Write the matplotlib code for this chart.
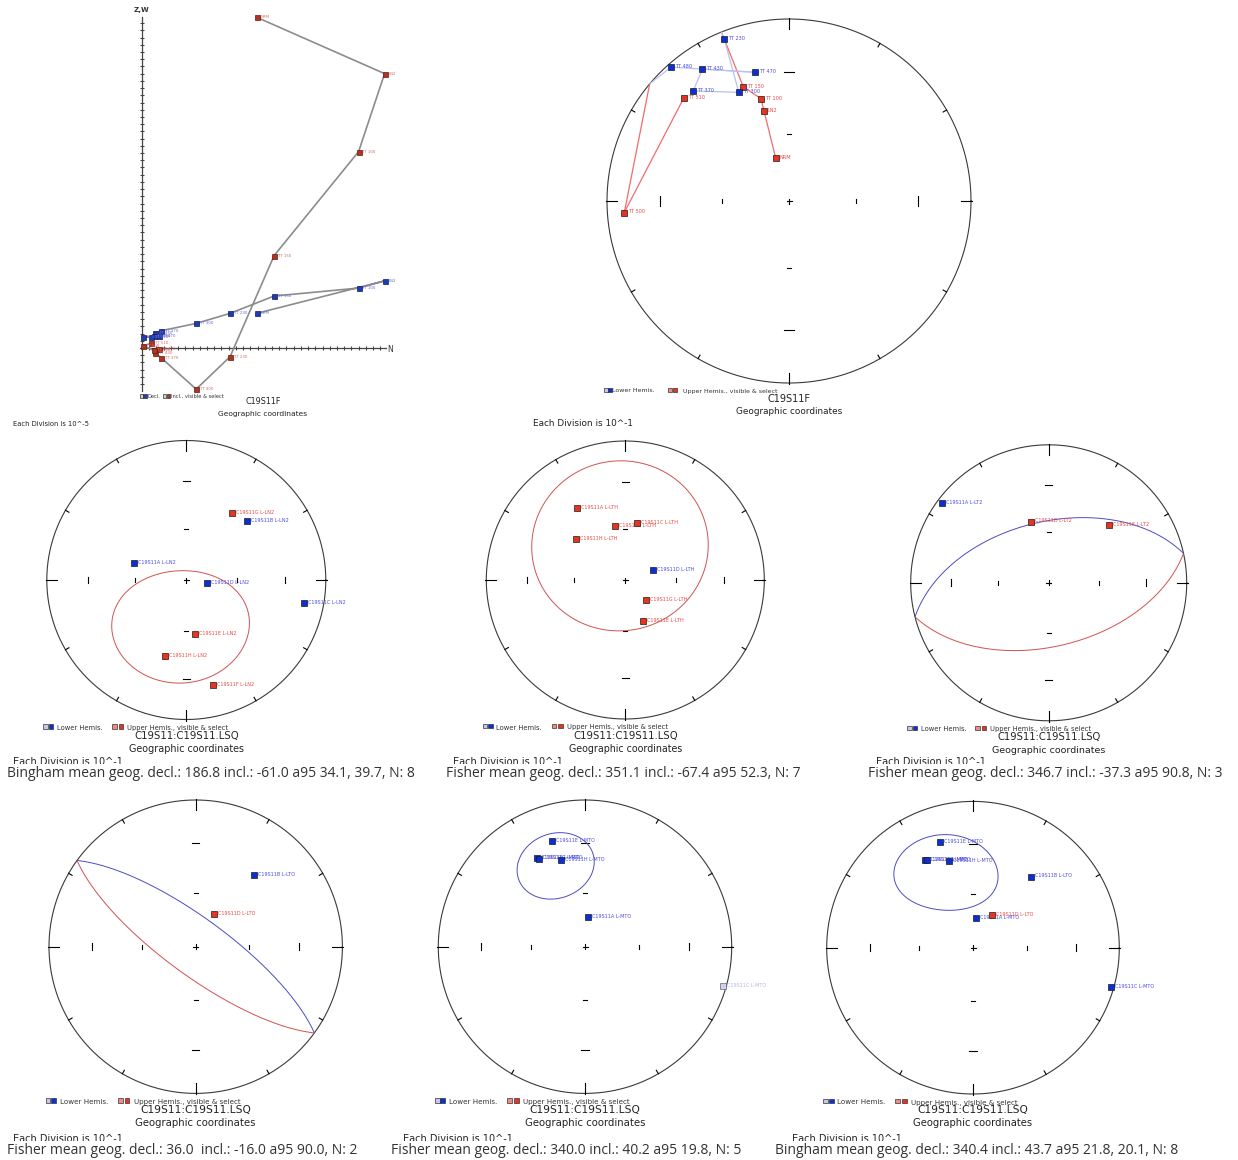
import numpy as np
import matplotlib
matplotlib.use("Agg")
import matplotlib.pyplot as plt
from matplotlib.patches import Rectangle

W, H, DPI = 1238, 1160, 100

# ---------------- data ----------------
# Zijderveld diagram, sample C19S11F (units: divisions of 10^-5)
zij_steps = ["NRM", "LN2", "TT 100", "TT 150", "TT 230", "TT 300",
             "TT 370", "TT 430", "TT 470", "TT 480", "TT 500", "TT 510"]
zij_north = [15.9, 33.6, 30.0, 18.3, 12.2, 7.5, 2.7, 1.8, 2.3, 1.6, 0.1, 1.3]
zij_west = [4.8, 9.3, 8.3, 7.2, 4.8, 3.4, 2.4, 2.1, 1.6, 1.6, 1.5, 1.5]
zij_up = [45.8, 38.0, 27.2, 12.8, -1.2, -5.7, -1.4, -0.7, -0.15, -0.3, 0.3, 0.65]

# Equal-area plot of the same demagnetisation steps (decl., incl.)
sf_dec = [342.8, 344.5, 344.7, 338.2, 338.2, 335.2, 319.0, 326.7, 345.2, 318.6, 266.0, 314.4]
sf_inc = [-69.8, -47.3, -41.3, -32.9, 4.8, 34.6, 20.9, 14.4, 27.7, 2.2, -10.2, -20.2]

# Site-level components
ln2_labels = ["C19S11G L-LN2", "C19S11B L-LN2", "C19S11A L-LN2", "C19S11D L-LN2",
              "C19S11C L-LN2", "C19S11E L-LN2", "C19S11H L-LN2", "C19S11F L-LN2"]
ln2_dec = [34.5, 45.8, 288.0, 99.3, 101.2, 171.0, 195.7, 165.9]
ln2_inc = [-41.6, 39.2, 57.6, 78.0, 15.3, -57.6, -42.8, -23.4]

lth_labels = ["C19S11A L-LTH", "C19S11B L-LTH", "C19S11C L-LTH", "C19S11H L-LTH",
              "C19S11D L-LTH", "C19S11G L-LTH", "C19S11E L-LTH"]
lth_dec = [325.9, 349.5, 11.9, 309.9, 70.1, 134.8, 156.8]
lth_inc = [-37.7, -57.6, -55.7, -51.8, 72.7, -73.1, -63.6]

lt2_labels = ["C19S11A L-LT2", "C19S11D L-LT2", "C19S11E L-LT2"]
lt2_dec = [306.8, 343.9, 46.3]
lt2_inc = [4.3, -51.9, -39.2]

lto_labels = ["C19S11B L-LTO", "C19S11D L-LTO"]
lto_dec = [39.2, 29.9]
lto_inc = [37.3, -69.2]

mto_labels = ["C19S11E L-MTO", "C19S11F L-MTO", "C19S11G L-MTO", "C19S11H L-MTO",
              "C19S11A L-MTO", "C19S11C L-MTO"]
mto_dec = [342.6, 331.4, 332.6, 344.6, 5.0, 105.8]
mto_inc = [25.2, 32.0, 32.8, 38.4, 73.3, 2.3]

# Means (kind, decl, incl, a95 semi-angles, N)
mean_kind = ["Bingham", "Fisher", "Fisher", "Fisher", "Fisher", "Bingham"]
mean_dec = [186.8, 351.1, 346.7, 36.0, 340.0, 340.4]
mean_inc = [-61.0, -67.4, -37.3, -16.0, 40.2, 43.7]
mean_a95 = [(34.1, 39.7), (52.3,), (90.8,), (90.0,), (19.8,), (21.8, 20.1)]
mean_n = [8, 7, 3, 2, 5, 8]
# confidence regions as drawn (semi-angles along declination / inclination, tilt)
ell_e1 = [39.7, 52.3, 90.8, 90.0, 19.8, 28.0]
ell_e2 = [34.1, 52.3, 90.8, 90.0, 19.8, 22.0]
ell_phi = [15.0, 0.0, 0.0, 0.0, 0.0, 38.0]

# ---------------- helpers ----------------
BLUE, RED = "#0b2fd6", "#e6341e"
BLUE_T, RED_T = "#4b4be0", "#e84a44"
LBLUE, LRED = "#c4c8f0", "#f28a86"


def ea(dec, inc):
    d = np.radians(np.asarray(dec, float))
    i = np.radians(np.abs(np.asarray(inc, float)))
    r = np.sqrt(2) * np.sin((np.pi / 2 - i) / 2)
    return r * np.sin(d), r * np.cos(d)


def dir2vec(dec, inc):
    d, i = np.radians(dec), np.radians(inc)
    return np.array([np.cos(i) * np.cos(d), np.cos(i) * np.sin(d), np.sin(i)])


def vec2dir(v):
    x, y, z = v
    n = np.sqrt(x * x + y * y + z * z)
    return np.degrees(np.arctan2(y, x)) % 360, np.degrees(np.arcsin(np.clip(z / n, -1, 1)))


def cone(dec, inc, a_e1, a_e2, phi=0.0, n=1441):
    m = dir2vec(dec, inc)
    d, i = np.radians(dec), np.radians(inc)
    e1 = np.array([-np.sin(d), np.cos(d), 0.0])
    e2 = np.array([-np.sin(i) * np.cos(d), -np.sin(i) * np.sin(d), np.cos(i)])
    t = np.linspace(0, 2 * np.pi, n)
    A, B = np.radians(a_e1), np.radians(a_e2)
    tt = t - np.radians(phi)
    th = A * B / np.sqrt((B * np.cos(tt)) ** 2 + (A * np.sin(tt)) ** 2)
    return (np.cos(th) * m[:, None]
            + np.sin(th) * (np.cos(t) * e1[:, None] + np.sin(t) * e2[:, None]))


def draw_split(ax, v, c_low, c_up, lw):
    dec, inc = vec2dir(v)
    x, y = ea(dec, inc)
    low = v[2] >= 0
    idx = np.where(np.diff(low.astype(int)) != 0)[0]
    starts = np.r_[0, idx + 1]
    ends = np.r_[idx + 1, len(low)]
    for s, e in zip(starts, ends):
        e2 = min(e + 1, len(low))
        ax.plot(x[s:e2], y[s:e2], color=c_low if low[s] else c_up, lw=lw,
                solid_capstyle="butt", zorder=3, clip_on=False)


def draw_step_path(ax, decs, incs, c_low, c_up, lw):
    for k in range(len(decs) - 1):
        v1, v2 = dir2vec(decs[k], incs[k]), dir2vec(decs[k + 1], incs[k + 1])
        p1, p2 = ea(decs[k], incs[k]), ea(decs[k + 1], incs[k + 1])
        c1 = c_low if incs[k] >= 0 else c_up
        c2 = c_low if incs[k + 1] >= 0 else c_up
        if c1 == c2:
            ax.plot([p1[0], p2[0]], [p1[1], p2[1]], color=c1, lw=lw, zorder=3, clip_on=False)
        else:
            s = v1[2] / (v1[2] - v2[2])
            pc = ea(*vec2dir((1 - s) * v1 + s * v2))
            ax.plot([p1[0], pc[0]], [p1[1], pc[1]], color=c1, lw=lw, zorder=3, clip_on=False)
            ax.plot([pc[0], p2[0]], [pc[1], p2[1]], color=c2, lw=lw, zorder=3, clip_on=False)


fig = plt.figure(figsize=(W / DPI, H / DPI), dpi=DPI)
fig.patch.set_facecolor("white")

# overlay in pixel coordinates for the annotation texts
ov = fig.add_axes([0, 0, 1, 1])
ov.set_xlim(0, W)
ov.set_ylim(H, 0)
ov.axis("off")


def sq(x, y, size, fc, ec="#333333"):
    ov.add_patch(Rectangle((x, y - size / 2), size, size, facecolor=fc,
                           edgecolor=ec, lw=0.5, zorder=2))


def stereo_axes(cx, cy, R):
    ax = fig.add_axes([(cx - R) / W, (H - cy - R) / H, 2 * R / W, 2 * R / H])
    ax.set_xlim(-1, 1)
    ax.set_ylim(-1, 1)
    ax.axis("off")
    kw = dict(color="k", lw=0.8, zorder=2, clip_on=False)
    t = np.linspace(0, 2 * np.pi, 721)
    ax.plot(np.cos(t), np.sin(t), color="#3a3a3a", lw=0.8, zorder=2, clip_on=False)
    for a in range(0, 360, 30):
        ar = np.radians(a)
        if a % 90 == 0:
            r0, r1 = 1 - 10.0 / R, 1 + 1.0 / R
        else:
            r0, r1 = 1 - 4.0 / R, 1.0
        ax.plot([r0 * np.sin(ar), r1 * np.sin(ar)], [r0 * np.cos(ar), r1 * np.cos(ar)], **kw)
    for inc_tick, half in [(30, 0.025 * R), (60, 2.0)]:
        rr = float(ea(0, inc_tick)[1])
        h = half / R
        for sgn in (1, -1):
            ax.plot([-h, h], [sgn * rr, sgn * rr], **kw)
            ax.plot([sgn * rr, sgn * rr], [-h, h], **kw)
    h = 2.5 / R
    ax.plot([-h, h], [0, 0], **kw)
    ax.plot([0, 0], [-h, h], **kw)
    return ax


def plot_dirs(ax, R, decs, incs, labels, ms=3.8, fs=3.5, faded=()):
    x, y = ea(decs, incs)
    off = 4.0 / R
    for k, (xi, yi, inc, lab) in enumerate(zip(x, y, incs, labels)):
        low = inc >= 0
        if lab in faded:
            fc, tc, ec = "#cdd0f2", "#b4b8ec", "#666666"
        else:
            fc, tc, ec = (BLUE, BLUE_T, "#1a1a1a") if low else (RED, RED_T, "#1a1a1a")
        ax.plot(xi, yi, "s", ms=ms, mfc=fc, mec=ec, mew=0.5, zorder=5 + 2 * k, clip_on=False)
        ax.text(xi + off, yi + 0.6 / R, lab, fontsize=fs, color=tc, va="center", ha="left",
                zorder=6 + 2 * k, clip_on=False)


# ---------------- panel 1: Zijderveld ----------------
zx0, zy0, div = 142.0, 348.0, 7.22
axz = fig.add_axes([130 / W, (H - 395) / H, 270 / W, 390 / H])
axz.set_xlim((130 - zx0) / div, (400 - zx0) / div)
axz.set_ylim((zy0 - 395) / div, (zy0 - 5) / div)
axz.axis("off")
axz.plot([0, 0], [-5.9, 45.9], color="#444444", lw=0.9)
axz.plot(np.zeros(51), np.arange(-5, 46), "_", ms=3.4, mew=0.8, color="#444444")
axz.plot([-0.3, 33.8], [0, 0], color="#444444", lw=0.9)
axz.plot(np.arange(1, 34), np.zeros(33), "|", ms=3.4, mew=0.8, color="#444444")
axz.plot(zij_north, zij_west, color="#8c8c8c", lw=1.2, zorder=3)
axz.plot(zij_north, zij_up, color="#8c8c8c", lw=1.2, zorder=3)
axz.plot(zij_north, zij_west, "s", ms=3.6, mfc="#1f3cb0", mec="#101860", mew=0.5, zorder=4)
axz.plot(zij_north, zij_up, "s", ms=3.6, mfc="#b3331f", mec="#5a1a10", mew=0.5, zorder=5)
for n_, w_, u_, lab in zip(zij_north, zij_west, zij_up, zij_steps):
    axz.text(n_ + 0.5, w_, lab, fontsize=2.8, color="#6a6ad4", va="center", zorder=6)
    axz.text(n_ + 0.5, u_, lab, fontsize=2.8, color="#d46a6a", va="center", zorder=6)
ov.text(142, 10, "Z,W", fontsize=5, fontweight="bold", color="#333333", ha="center", va="center")
ov.text(387, 349, "N", fontsize=5.5, color="#333333", ha="left", va="center")
sq(139.5, 396, 3.4, "#d0d0d0")
sq(143.3, 396, 3.4, "#1f3cb0")
ov.text(147.5, 396.5, "Decl.", fontsize=3.7, color="#333333", va="center")
sq(162.7, 396, 3.4, "#d0d0d0")
sq(166.5, 396, 3.4, "#b3331f")
ov.text(170.7, 396.5, "Incl., visible & select", fontsize=3.7, color="#333333", va="center")
ov.text(263, 401, "C19S11F", fontsize=5.8, color="#222222", ha="center", va="center")
ov.text(263, 414, "Geographic coordinates", fontsize=5.4, color="#222222", ha="center", va="center")
ov.text(13, 424, "Each Division is 10^-5", fontsize=4.9, color="#222222", va="center")

# ---------------- panel 2: equal-area of C19S11F ----------------
cx2, cy2, R2 = 789.0, 201.0, 182.0
ax2 = stereo_axes(cx2, cy2, R2)
draw_step_path(ax2, sf_dec, sf_inc, "#b9c0f2", "#f26b6b", 0.9)
plot_dirs(ax2, R2, sf_dec, sf_inc, zij_steps, ms=4.1, fs=3.6)
L2 = cx2 - R2
sq(L2 - 3.5, 390, 4.0, LBLUE)
sq(L2 + 1.0, 390, 4.0, BLUE)
ov.text(L2 + 5.5, 391, "Lower Hemis.", fontsize=4.5, color="#333333", va="center")
sq(L2 + 61, 390, 4.0, LRED)
sq(L2 + 65.5, 390, 4.0, RED)
ov.text(L2 + 76, 391, "Upper Hemis., visible & select", fontsize=4.5, color="#333333", va="center")
ov.text(cx2, 398.5, "C19S11F", fontsize=7.0, color="#222222", ha="center", va="center")
ov.text(cx2, 411, "Geographic coordinates", fontsize=6.4, color="#222222", ha="center", va="center")
ov.text(533, 423, "Each Division is 10^-1", fontsize=6.4, color="#222222", va="center")

# ---------------- panels 3-8: site means ----------------
geo = [(186.3, 580.0, 139.5), (625.3, 580.0, 139.0), (1048.7, 582.8, 138.0),
       (195.7, 946.7, 146.7), (585.0, 946.7, 146.7), (973.0, 947.7, 146.3)]
each_x = [13, 453, 876, 13, 403, 792]
cap_x = [7, 446, 868, 7, 391, 775]
row_each_y = [765, 765, 765, 1142.5, 1142.5, 1142.5]
row_cap_y = [777, 777, 777, 1154, 1154, 1154]
dec_sep = [" ", " ", " ", "  ", " ", " "]

panel_pts = [
    (ln2_dec, ln2_inc, ln2_labels, ()),
    (lth_dec, lth_inc, lth_labels, ()),
    (lt2_dec, lt2_inc, lt2_labels, ()),
    (lto_dec, lto_inc, lto_labels, ()),
    (mto_dec, mto_inc, mto_labels, ("C19S11C L-MTO",)),
    (mto_dec + lto_dec, mto_inc + lto_inc, mto_labels + lto_labels, ()),
]

for k, ((cx, cy, R), (decs, incs, labs, faded)) in enumerate(zip(geo, panel_pts)):
    ax = stereo_axes(cx, cy, R)
    v = cone(mean_dec[k], mean_inc[k], ell_e1[k], ell_e2[k], ell_phi[k])
    draw_split(ax, v, "#4c4cc0", "#d05252", 0.7)
    s = R / 139.5
    plot_dirs(ax, R, decs, incs, labs, ms=3.8, fs=3.5, faded=faded)

    L = cx - R
    ly = cy + R + 7
    sq(L - 3.5, ly, 4.5 * s, LBLUE)
    sq(L + 2.0 * s, ly, 4.5 * s, BLUE)
    ov.text(L + 10 * s, ly + 1.5, "Lower Hemis.", fontsize=4.9 * s, color="#333333", va="center")
    sq(L + 65.5 * s, ly, 4.5 * s, LRED)
    sq(L + 72 * s, ly, 4.5 * s, RED)
    ov.text(L + 80.5 * s, ly + 1.5, "Upper Hemis., visible & select", fontsize=4.9 * s,
            color="#333333", va="center")
    ov.text(cx, cy + R + 16.5, "C19S11:C19S11.LSQ", fontsize=7.3 * s, color="#222222",
            ha="center", va="center")
    ov.text(cx, cy + R + 29.5, "Geographic coordinates", fontsize=6.9 * s, color="#222222",
            ha="center", va="center")
    ov.text(each_x[k], row_each_y[k], "Each Division is 10^-1", fontsize=7.0, color="#222222",
            va="baseline", zorder=3)
    a_txt = ", ".join(f"{x:.1f}" for x in mean_a95[k])
    cap = (f"{mean_kind[k]} mean geog. decl.: {mean_dec[k]:.1f}{dec_sep[k]}"
           f"incl.: {mean_inc[k]:.1f} a95 {a_txt}, N: {mean_n[k]}")
    ov.text(cap_x[k], row_cap_y[k], cap, fontsize=10, family="Open Sans", color="#333333",
            va="baseline", zorder=6)

# white bands that crop the bottom of the "Each Division" lines
ov.add_patch(Rectangle((0, 763.5), W, 3.5, facecolor="white", edgecolor="none", zorder=5))
ov.add_patch(Rectangle((0, 1141.0), W, 3.5, facecolor="white", edgecolor="none", zorder=5))

fig.savefig("out.png", dpi=DPI, facecolor="white")
